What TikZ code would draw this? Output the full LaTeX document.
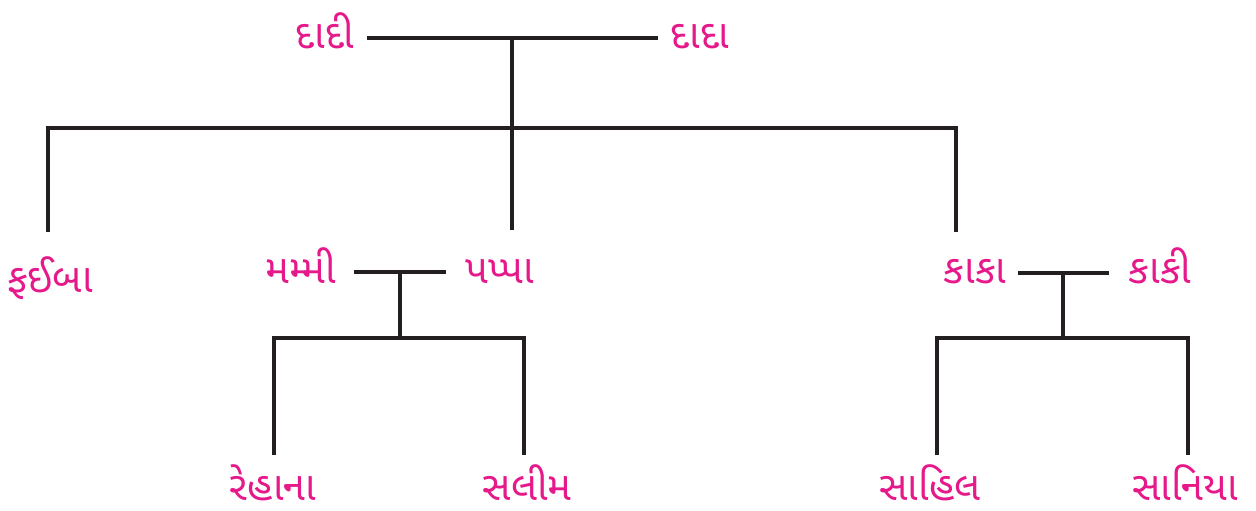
\documentclass[tikz,border=0pt]{standalone}
\usepackage{fontspec}
\newfontfamily\gujfont[Script=Gujarati]{Noto Sans Gujarati UI}
\definecolor{namepink}{HTML}{E6198B}
\definecolor{linegray}{HTML}{231F20}
\tikzset{
  person/.style={text=namepink, font=\gujfont\fontsize{40}{46}\selectfont, inner sep=0pt, anchor=base},
  link/.style={draw=linegray, line width=4pt}
}
\begin{document}
\begin{tikzpicture}[x=1pt, y=-1pt]
  \useasboundingbox (0,0) rectangle (1256,511);

  % first generation
  \node[person] (dadi) at (325,49) {દાદી};
  \node[person] (dada) at (700,49) {દાદા};

  % second generation
  \node[person] (fai)   at (50,292)   {ફઈબા};
  \node[person] (mummy) at (301,283)  {મમ્મી};
  \node[person] (pappa) at (500,283)  {પપ્પા};
  \node[person] (kaka)  at (975,283)  {કાકા};
  \node[person] (kaki)  at (1160,283) {કાકી};

  % third generation
  \node[person] (rehana) at (273,500)  {રેહાના};
  \node[person] (salim)  at (527,500)  {સલીમ};
  \node[person] (sahil)  at (930,500)  {સાહિલ};
  \node[person] (saniya) at (1185,500) {સાનિયા};

  % junctions
  \coordinate (top) at (512,38);
  \coordinate (bar) at (512,128);
  \coordinate (mid) at (400,272);
  \coordinate (midbar) at (400,338);
  \coordinate (right) at (1063,273);
  \coordinate (rightbar) at (1063,338);

  % free ends of the drops
  \coordinate (faiup) at (48,232);
  \coordinate (pappaup) at (512,230);
  \coordinate (kakaup) at (956,232);
  \coordinate (rehanaup) at (274,455);
  \coordinate (salimup) at (524,455);
  \coordinate (sahilup) at (937,455);
  \coordinate (saniyaup) at (1188,455);

  \draw[link] ([xshift=13pt]dadi.east |- top) -- (top) -- ([xshift=-13pt]dada.west |- top);
  \draw[link] (top) -- (bar);
  \draw[link] (faiup) |- (bar) -| (kakaup);
  \draw[link] (bar) -- (pappaup);

  \draw[link] ([xshift=17pt]mummy.east |- mid) -- (mid) -- ([xshift=-20pt]pappa.west |- mid);
  \draw[link] (mid) -- (midbar);
  \draw[link] (rehanaup) |- (midbar) -| (salimup);

  \draw[link] ([xshift=12pt]kaka.east |- right) -- (right) -- ([xshift=-20pt]kaki.west |- right);
  \draw[link] (right) -- (rightbar);
  \draw[link] (sahilup) |- (rightbar) -| (saniyaup);
\end{tikzpicture}
\end{document}
